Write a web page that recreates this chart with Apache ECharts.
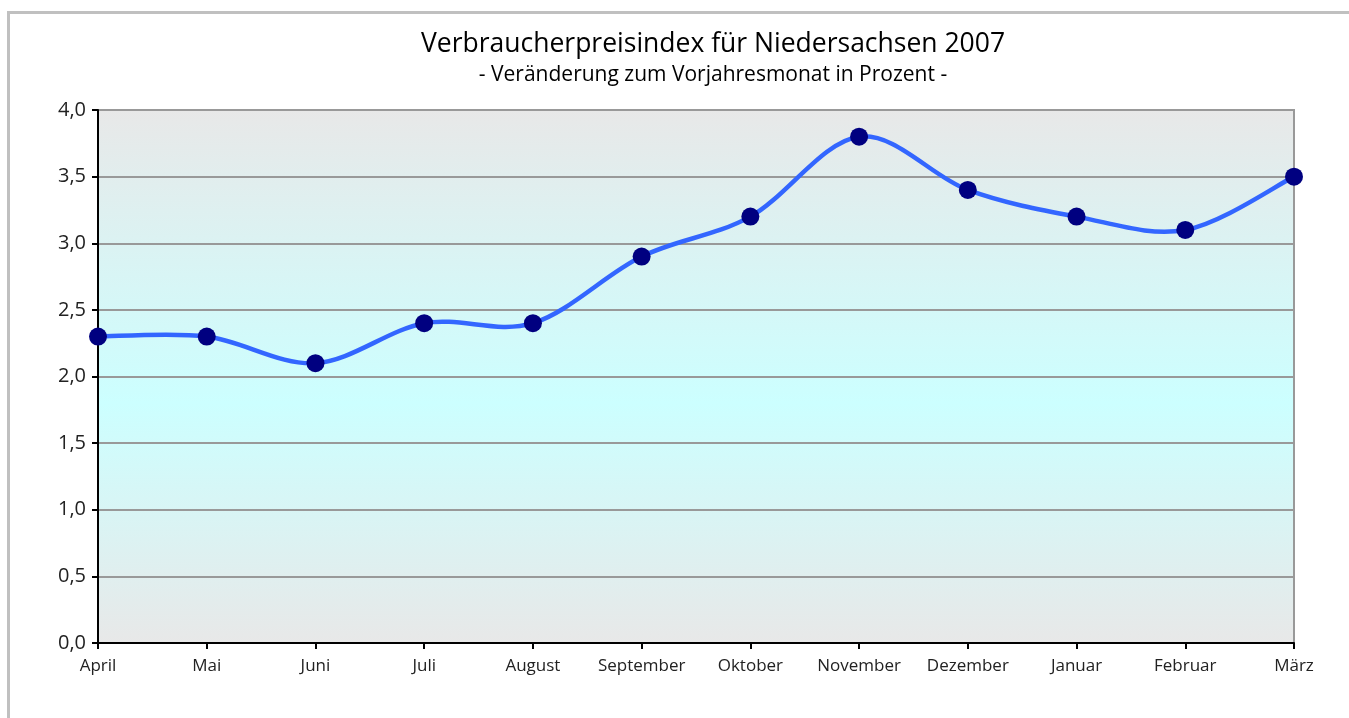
<!DOCTYPE html>
<html>
<head>
<meta charset="utf-8">
<script src="https://cdn.jsdelivr.net/npm/echarts@6/dist/echarts.min.js"></script>
<style>
  html, body { margin: 0; padding: 0; background: #fff; }
  #chart { width: 1349px; height: 718px; }
</style>
</head>
<body>
<div id="chart"></div>
<script>
// Monate (April 2007 bis März 2008)
const months = ['April', 'Mai', 'Juni', 'Juli', 'August', 'September', 'Oktober',
  'November', 'Dezember', 'Januar', 'Februar', 'März']
// Veränderung zum Vorjahresmonat in %
const values = [2.3, 2.3, 2.1, 2.4, 2.4, 2.9, 3.2, 3.8, 3.4, 3.2, 3.1, 3.5]

const font = '"Open Sans", "Noto Sans", sans-serif'

// geglättete Linie wie in Excel (Catmull-Rom), Segment i -> i+1
function renderSegment(params, api) {
  const i = params.dataIndex
  if (i >= values.length - 1) return null
  const n = values.length - 1
  const p = k => {
    const j = Math.max(0, Math.min(n, k))
    return api.coord([j, values[j]])
  }
  const p0 = p(i - 1), p1 = p(i), p2 = p(i + 1), p3 = p(i + 2)
  const t = 1 / 6
  return {
    type: 'bezierCurve',
    shape: {
      x1: p1[0], y1: p1[1],
      cpx1: p1[0] + (p2[0] - p0[0]) * t, cpy1: p1[1] + (p2[1] - p0[1]) * t,
      cpx2: p2[0] - (p3[0] - p1[0]) * t, cpy2: p2[1] - (p3[1] - p1[1]) * t,
      x2: p2[0], y2: p2[1]
    },
    style: { fill: 'none', stroke: '#3366ff', lineWidth: 4.5, lineCap: 'round' }
  }
}

const chart = echarts.init(document.getElementById('chart'))
chart.setOption({
  animation: false,
  title: {
    text: 'Verbraucherpreisindex für Niedersachsen 2007',
    subtext: '- Veränderung zum Vorjahresmonat in Prozent -',
    left: 708,
    top: 26,
    textAlign: 'center',
    itemGap: 7,
    textStyle: { fontFamily: font, fontSize: 26.5, fontWeight: 'normal', color: '#000' },
    subtextStyle: { fontFamily: font, fontSize: 21, color: '#000' }
  },
  graphic: [{
    type: 'rect',
    shape: { x: 8.5, y: 12.5, width: 1400, height: 800 },
    style: { fill: 'none', stroke: '#c0c0c0', lineWidth: 3 },
    silent: true
  }],
  grid: {
    left: 98,
    right: 55,
    top: 110,
    bottom: 75,
    show: true,
    borderColor: '#999',
    borderWidth: 2,
    backgroundColor: new echarts.graphic.LinearGradient(0, 0, 0, 1, [
      { offset: 0, color: '#e8e8e8' },
      { offset: 0.55, color: '#ccffff' },
      { offset: 1, color: '#e8e8e8' }
    ])
  },
  xAxis: {
    type: 'category',
    data: months,
    boundaryGap: false,
    axisLine: { lineStyle: { color: '#000', width: 2 } },
    axisTick: { show: true, interval: 0, length: 6, lineStyle: { color: '#000', width: 2 } },
    axisLabel: { interval: 0, fontFamily: font, fontSize: 17, color: '#222', margin: 15 },
    splitLine: { show: false }
  },
  yAxis: {
    type: 'value',
    min: 0,
    max: 4,
    interval: 0.5,
    axisLine: { show: true, lineStyle: { color: '#000', width: 2 } },
    axisTick: { show: true, length: 6, lineStyle: { color: '#000', width: 2 } },
    axisLabel: {
      fontFamily: font, fontSize: 20, color: '#222', margin: 12,
      formatter: v => v.toFixed(1).replace('.', ',')
    },
    splitLine: { lineStyle: { color: '#999', width: 2 } }
  },
  series: [{
    type: 'custom',
    renderItem: renderSegment,
    data: values.map((v, i) => [i, v]),
    z: 4
  }, {
    type: 'scatter',
    data: values.map((v, i) => [i, v]),
    symbol: 'circle',
    symbolSize: 18,
    itemStyle: { color: '#000080', opacity: 1 },
    z: 5
  }]
})
</script>
</body>
</html>
